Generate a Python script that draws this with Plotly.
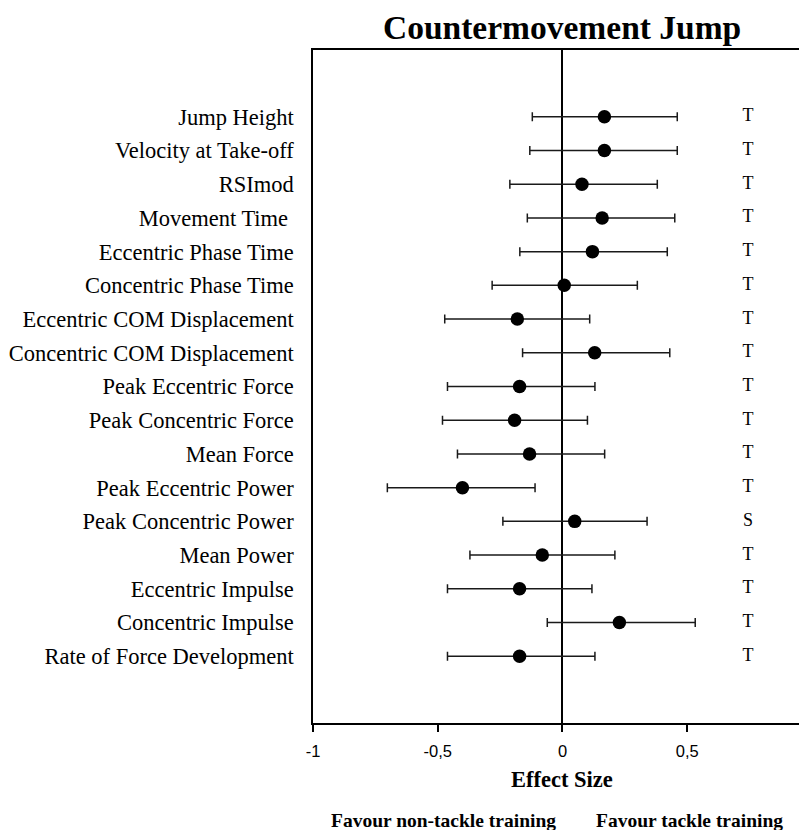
import plotly.graph_objects as go

categories = [
    "Jump Height", "Velocity at Take-off", "RSImod", "Movement Time ",
    "Eccentric Phase Time", "Concentric Phase Time", "Eccentric COM Displacement",
    "Concentric COM Displacement", "Peak Eccentric Force", "Peak Concentric Force",
    "Mean Force", "Peak Eccentric Power", "Peak Concentric Power", "Mean Power",
    "Eccentric Impulse", "Concentric Impulse", "Rate of Force Development",
]
effect = [0.168, 0.168, 0.078, 0.159, 0.120, 0.007, -0.181, 0.129, -0.172, -0.192,
          -0.132, -0.401, 0.049, -0.081, -0.172, 0.228, -0.172]
ci_low = [-0.121, -0.131, -0.211, -0.141, -0.171, -0.282, -0.472, -0.160, -0.461, -0.481,
          -0.421, -0.702, -0.239, -0.371, -0.461, -0.061, -0.461]
ci_high = [0.460, 0.460, 0.380, 0.450, 0.420, 0.300, 0.109, 0.430, 0.130, 0.100,
           0.169, -0.110, 0.339, 0.210, 0.118, 0.532, 0.130]
letters = ["T", "T", "T", "T", "T", "T", "T", "T", "T", "T", "T", "T", "S", "T", "T", "T", "T"]
letter_x = 0.744
tick_vals = [-1, -0.5, 0, 0.5]
tick_text = ["-1", "-0,5", "0", "0,5"]

SERIF = "Liberation Serif"
SANS = "Liberation Sans"

err_plus = [h - e for h, e in zip(ci_high, effect)]
err_minus = [e - l for e, l in zip(effect, ci_low)]

fig = go.Figure()
fig.add_trace(go.Scatter(
    x=effect, y=categories, mode="markers",
    marker=dict(color="black", size=13.5, symbol="circle"),
    error_x=dict(type="data", symmetric=False, array=err_plus, arrayminus=err_minus,
                 color="#1a1a1a", thickness=1.5, width=4.5),
    showlegend=False, cliponaxis=False,
))
fig.add_trace(go.Scatter(
    x=[letter_x] * len(categories), y=categories, mode="text", text=letters,
    textposition="middle center",
    textfont=dict(family=SERIF, size=18, color="black"), showlegend=False,
))

fig.update_layout(
    width=799, height=822,
    margin=dict(l=305, r=0, t=42, b=107),
    paper_bgcolor="white", plot_bgcolor="white",
    xaxis=dict(
        range=[-1, 0.98], tickvals=tick_vals, ticktext=tick_text,
        showgrid=False, zeroline=True, zerolinecolor="black", zerolinewidth=1.5,
        showline=True, linecolor="black", linewidth=1.5, mirror=True,
        ticks="outside", ticklen=7, tickcolor="black", tickwidth=1.5,
        ticklabelstandoff=5,
        tickfont=dict(family=SANS, size=16.5, color="black"),
    ),
    yaxis=dict(
        type="category", range=[17.98, -1.98], showgrid=False, zeroline=False,
        showline=True, linecolor="black", linewidth=1.5, mirror=False,
        ticks="", ticklabelstandoff=13,
        tickfont=dict(family=SERIF, size=22.5, color="black"),
    ),
    annotations=[
        dict(text="<b>Countermovement Jump</b>", xref="x", yref="paper",
             x=0.0, y=1.0, yshift=23, xanchor="center", yanchor="middle", showarrow=False,
             font=dict(family=SERIF, size=33.5, color="black")),
        dict(text="<b>Effect Size</b>", xref="x", yref="paper",
             x=0.0, y=0, yshift=-56, xanchor="center", yanchor="middle", showarrow=False,
             font=dict(family=SERIF, size=22.5, color="black")),
        dict(text="<b>Favour non-tackle training</b>", xref="x", yref="paper",
             x=-0.475, y=0, yshift=-97, xanchor="center", yanchor="middle", showarrow=False,
             font=dict(family=SERIF, size=19.5, color="black")),
        dict(text="<b>Favour tackle training</b>", xref="x", yref="paper",
             x=0.51, y=0, yshift=-97, xanchor="center", yanchor="middle", showarrow=False,
             font=dict(family=SERIF, size=19.5, color="black")),
    ],
)

fig.write_html("out.html")
